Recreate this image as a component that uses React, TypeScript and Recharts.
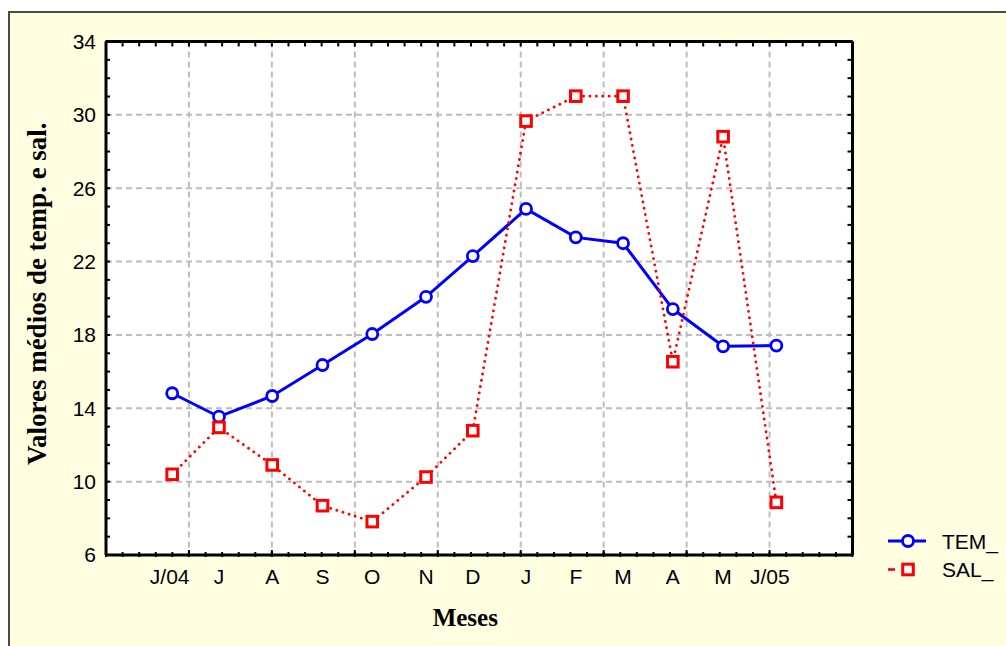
import React from 'react';
import { LineChart, Line, XAxis, YAxis, CartesianGrid, Legend } from 'recharts';

// ---- data ----
const months = ['J/04', 'J', 'A', 'S', 'O', 'N', 'D', 'J', 'F', 'M', 'A', 'M', 'J/05'];
const monthPos = [1.33, 2.27, 3.34, 4.35, 5.35, 6.43, 7.37, 8.44, 9.44, 10.39, 11.39, 12.4, 13.47];
const labelPos = [1.28, 2.27, 3.34, 4.35, 5.35, 6.43, 7.37, 8.44, 9.44, 10.39, 11.39, 12.4, 13.34];
const temValues = [14.82, 13.54, 14.67, 16.36, 18.05, 20.08, 22.3, 24.87, 23.32, 23.0, 19.41, 17.38, 17.42];
const salValues = [10.4, 12.96, 10.91, 8.69, 7.82, 10.25, 12.78, 29.66, 31.02, 31.02, 16.54, 28.81, 8.87];
const seriesOrder = ['tem', 'sal'];
const yTicks = [6, 10, 14, 18, 22, 26, 30, 34];
const yMinorTicks = Array.from({ length: 29 }, (_, i) => 6 + i);
const xMajorTicks = Array.from({ length: 10 }, (_, i) => (i * 5) / 3);
const xMinorTicks = Array.from({ length: 46 }, (_, i) => i / 3);

const data = monthPos.map((x, i) => ({ x, tem: temValues[i], sal: salValues[i] }));

const SANS = 'Liberation Sans, Arial, sans-serif';
const SERIF = 'Liberation Serif, Times New Roman, serif';

const TickUp = (p: any) => <line x1={p.x} x2={p.x} y1={p.y} y2={p.y - 5} stroke="#000" strokeWidth={2} />;
const TickDown = (p: any) => <line x1={p.x} x2={p.x} y1={p.y} y2={p.y + 5} stroke="#000" strokeWidth={2} />;
const TickRight = (p: any) => <line x1={p.x} x2={p.x + 5} y1={p.y} y2={p.y} stroke="#000" strokeWidth={2} />;
const TickLeft = (p: any) => <line x1={p.x} x2={p.x - 5} y1={p.y} y2={p.y} stroke="#000" strokeWidth={2} />;

const SquareDot = (p: any) => {
  const { cx, cy } = p;
  if (cx == null || cy == null) return null;
  return <rect x={cx - 5.3} y={cy - 5.3} width={10.6} height={10.6} fill="#fff" stroke="#FF0000" strokeWidth={3} />;
};

const LegendContent = (props: any) => {
  const raw = props.payload || [];
  const items = seriesOrder
    .map((k) => raw.find((it: any) => it.dataKey === k))
    .filter(Boolean);
  return (
    <svg width={126} height={60} style={{ display: 'block' }}>
      {items.map((it: any, i: number) => {
        const y = 16 + i * 28.5;
        const isTem = it.dataKey === 'tem';
        return (
          <g key={i}>
            {isTem ? (
              <>
                <line x1={8} x2={46} y1={y} y2={y} stroke={it.color} strokeWidth={3} />
                <circle cx={28} cy={y} r={5.5} fill="#fff" stroke={it.color} strokeWidth={2.8} />
              </>
            ) : (
              <>
                <line x1={8} x2={15} y1={y} y2={y} stroke={it.color} strokeWidth={2.6} />
                <rect x={22.7} y={y - 5.3} width={10.6} height={10.6} fill="#fff" stroke={it.color} strokeWidth={3} />
              </>
            )}
            <text x={62} y={y + 7.5} fontSize={21} fontFamily={SANS} fill="#000">
              {it.value}
            </text>
          </g>
        );
      })}
    </svg>
  );
};

const YTitle = (props: any) => {
  const vb = props.viewBox || { x: 105, y: 41.5, height: 513.5 };
  const cx = 45.5;
  const cy = vb.y + vb.height / 2 - 4.5;
  return (
    <text
      x={cx}
      y={cy}
      transform={`rotate(-90, ${cx}, ${cy})`}
      textAnchor="middle"
      fontSize={27}
      fontWeight="bold"
      fontFamily={SERIF}
      fill="#000"
    >
      Valores médios de temp. e sal.
    </text>
  );
};

const XTitle = (props: any) => {
  const vb = props.viewBox || { x: 106, y: 557, width: 746.5 };
  const cx = vb.x + vb.width / 2 - 14;
  const cy = 626;
  return (
    <text x={cx} y={cy} textAnchor="middle" fontSize={25} fontWeight="bold" fontFamily={SERIF} fill="#000">
      Meses
    </text>
  );
};

export default function App() {
  return (
    <div style={{ position: 'absolute', left: 0, top: 0, width: 1006, height: 646, overflow: 'hidden', background: '#fff' }}>
      <div
        style={{
          position: 'absolute',
          left: 8,
          top: 11,
          width: 1100,
          height: 700,
          background: '#FFFEE0',
          borderLeft: '2px solid #4a4a4a',
          borderTop: '2px solid #4a4a4a',
        }}
      />
      <div style={{ position: 'absolute', left: 0, top: 0 }}>
        <LineChart width={1006} height={646} data={data} margin={{ top: 40.5, right: 152.5, bottom: 88, left: 104 }}>
          <CartesianGrid
            xAxisId="x"
            yAxisId="y"
            fill="#fff"
            stroke="#BDBDBD"
            strokeWidth={2}
            strokeDasharray="6 4"
          />
          <XAxis
            xAxisId="x"
            dataKey="x"
            type="number"
            domain={[0, 15]}
            allowDataOverflow
            ticks={xMajorTicks}
            interval={0}
            height={1}
            tickSize={0}
            tickMargin={0}
            tickLine={false}
            tick={TickUp}
            axisLine={{ stroke: '#000', strokeWidth: 3 }}
          />
          <XAxis
            xAxisId="xm"
            dataKey="x"
            type="number"
            domain={[0, 15]}
            allowDataOverflow
            ticks={xMinorTicks}
            interval={0}
            height={1}
            tickSize={0}
            tickMargin={0}
            tickLine={false}
            tick={TickUp}
            axisLine={false}
          />
          <XAxis
            xAxisId="xl"
            dataKey="x"
            type="number"
            domain={[0, 15]}
            allowDataOverflow
            ticks={labelPos}
            interval={0}
            height={1}
            tickSize={0}
            tickMargin={13}
            tickLine={false}
            axisLine={false}
            tickFormatter={(v: number) => months[labelPos.indexOf(v)] ?? ''}
            tick={{ fontSize: 21, fill: '#000', fontFamily: SANS }}
            label={{ content: XTitle }}
          />
          <XAxis
            xAxisId="xt"
            orientation="top"
            dataKey="x"
            type="number"
            domain={[0, 15]}
            allowDataOverflow
            ticks={xMinorTicks}
            interval={0}
            height={1}
            tickSize={0}
            tickMargin={0}
            tickLine={false}
            tick={TickDown}
            axisLine={{ stroke: '#000', strokeWidth: 3 }}
          />
          <YAxis
            yAxisId="y"
            type="number"
            domain={[6, 34]}
            allowDataOverflow
            ticks={yTicks}
            interval={0}
            width={1}
            tickSize={0}
            tickMargin={10}
            tickLine={false}
            axisLine={{ stroke: '#000', strokeWidth: 3 }}
            tick={{ fontSize: 21, fill: '#000', fontFamily: SANS }}
            label={{ content: YTitle }}
          />
          <YAxis
            yAxisId="ym"
            type="number"
            domain={[6, 34]}
            allowDataOverflow
            ticks={yMinorTicks}
            interval={0}
            width={1}
            tickSize={0}
            tickMargin={0}
            tickLine={false}
            axisLine={false}
            tick={TickRight}
          />
          <YAxis
            yAxisId="yr"
            orientation="right"
            type="number"
            domain={[6, 34]}
            allowDataOverflow
            ticks={yMinorTicks}
            interval={0}
            width={1}
            tickSize={0}
            tickMargin={0}
            tickLine={false}
            axisLine={{ stroke: '#000', strokeWidth: 3 }}
            tick={TickLeft}
          />
          <Line
            xAxisId="x"
            yAxisId="y"
            name="TEM_"
            dataKey="tem"
            stroke="#0000FF"
            strokeWidth={3}
            dot={{ r: 5.5, fill: '#fff', stroke: '#0000FF', strokeWidth: 2.8 }}
            isAnimationActive={false}
          />
          <Line
            xAxisId="x"
            yAxisId="y"
            name="SAL_"
            dataKey="sal"
            stroke="#FF0000"
            strokeWidth={2.8}
            strokeDasharray="0.1 6.3"
            strokeLinecap="round"
            dot={<SquareDot />}
            isAnimationActive={false}
          />
          <Legend
            layout="horizontal"
            verticalAlign="middle"
            align="center"
            content={<LegendContent />}
            wrapperStyle={{ position: 'absolute', left: 880, top: 525, width: 126, height: 60 }}
          />
        </LineChart>
      </div>
    </div>
  );
}
